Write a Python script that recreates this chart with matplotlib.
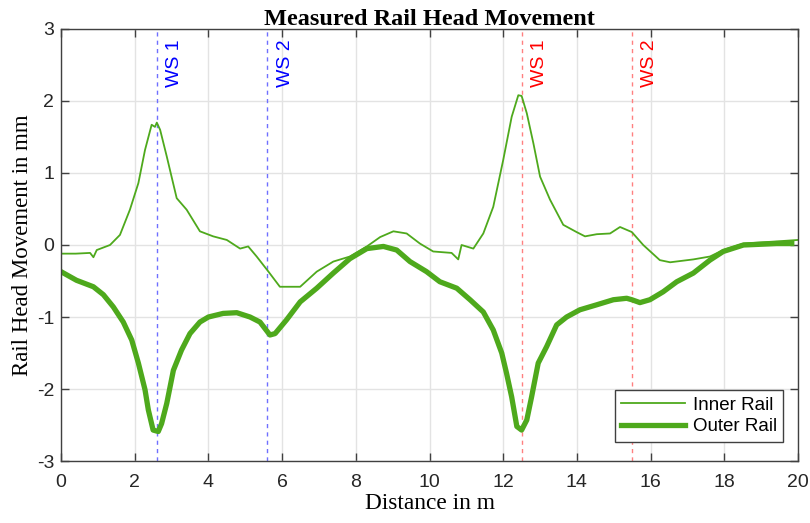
import numpy as np
import matplotlib
matplotlib.use('Agg')
import matplotlib.pyplot as plt

# ---- data ----
inner_x = [0.0, 0.4, 0.79, 0.88, 0.97, 1.33, 1.6, 1.87, 2.1, 2.28, 2.46, 2.55, 2.6, 2.69,
           2.87, 3.0, 3.14, 3.41, 3.77, 4.13, 4.5, 4.86, 5.08, 5.31, 5.63, 5.94, 6.49, 6.94,
           7.39, 7.84, 8.3, 8.66, 9.02, 9.38, 9.74, 10.1, 10.6, 10.78, 10.87, 11.19,
           11.46, 11.73, 12.0, 12.23, 12.41, 12.5, 12.64, 12.82, 13.0, 13.27, 13.63,
           13.99, 14.22, 14.54, 14.9, 15.17, 15.49, 15.8, 16.25, 16.53, 17.16, 17.61,
           17.97, 18.52, 19.42, 20.0]
inner_y = [-0.12, -0.12, -0.11, -0.17, -0.07, 0.0, 0.14, 0.49, 0.86, 1.32, 1.67, 1.64, 1.70, 1.6,
           1.23, 0.95, 0.65, 0.49, 0.19, 0.12, 0.07, -0.05, -0.02, -0.16, -0.37, -0.58, -0.58, -0.37,
           -0.23, -0.16, -0.02, 0.11, 0.19, 0.16, 0.02, -0.09, -0.11, -0.2, 0.0, -0.05,
           0.16, 0.53, 1.18, 1.78, 2.08, 2.07, 1.83, 1.41, 0.95, 0.63, 0.28,
           0.18, 0.12, 0.15, 0.16, 0.25, 0.18, 0.0, -0.21, -0.24, -0.2, -0.16,
           -0.07, 0.02, 0.05, 0.07]

outer_x = [0.0, 0.42, 0.88, 1.15, 1.42, 1.69, 1.92, 2.1, 2.28, 2.37, 2.5, 2.64, 2.73, 2.87,
           3.05, 3.27, 3.5, 3.77, 4.0, 4.4, 4.77, 5.13, 5.4, 5.67, 5.81, 6.12, 6.49, 6.94,
           7.39, 7.84, 8.3, 8.75, 9.11, 9.47, 9.92, 10.28, 10.74, 11.1, 11.46, 11.73,
           11.96, 12.09, 12.23, 12.37, 12.5, 12.64, 12.77, 12.95, 13.18, 13.45, 13.72,
           14.08, 14.54, 14.99, 15.35, 15.49, 15.71, 15.98, 16.34, 16.71, 17.16, 17.61,
           17.97, 18.52, 19.42, 19.83]
outer_y = [-0.37, -0.49, -0.58, -0.69, -0.86, -1.07, -1.32, -1.64, -2.01, -2.29, -2.57, -2.59, -2.48, -2.2,
           -1.74, -1.46, -1.23, -1.07, -1.0, -0.95, -0.94, -1.0, -1.07, -1.25, -1.23, -1.04, -0.79, -0.6,
           -0.39, -0.19, -0.05, -0.02, -0.07, -0.23, -0.37, -0.51, -0.6, -0.76, -0.93, -1.18,
           -1.5, -1.78, -2.11, -2.52, -2.57, -2.43, -2.11, -1.64, -1.41, -1.11, -1.0,
           -0.9, -0.83, -0.76, -0.74, -0.76, -0.8, -0.76, -0.65, -0.51, -0.39, -0.21,
           -0.09, 0.0, 0.02, 0.02]

ws_x = [2.6, 5.6, 12.5, 15.5]
ws_labels = ['WS 1', 'WS 2', 'WS 1', 'WS 2']
ws_colors = ['blue', 'blue', 'red', 'red']

x_ticks = [0, 2, 4, 6, 8, 10, 12, 14, 16, 18, 20]
y_ticks = [-3, -2, -1, 0, 1, 2, 3]

#...!...!..................
green = '#4ea91c'
ax_col = '#404040'
serif = 'Liberation Serif'
sans = 'Liberation Sans'

plt.rcParams['font.family'] = sans
plt.rcParams['axes.unicode_minus'] = False
fig = plt.figure(figsize=(8.10, 5.23), dpi=100, facecolor='white')
ax = fig.add_axes([0.0753, 0.1185, 0.9099, 0.8261])

ax.plot(inner_x, inner_y, color=green, lw=1.3, label='Inner Rail')
ax.plot(outer_x, outer_y, color=green, lw=3.8, solid_joinstyle='round', label='Outer Rail')

line_cols = {'blue': '#7070ff', 'red': '#ff8080'}
for xv, lab, c in zip(ws_x, ws_labels, ws_colors):
    ax.axvline(xv, color=line_cols[c], ls=(0, (3, 3)), lw=1.0, zorder=1)
    ax.text(xv + 0.48, 2.85, lab, rotation=90, va='top', ha='center',
            color=c, fontsize=14, family=sans)

ax.set_xlim(0, 20)
ax.set_ylim(-3, 3)
ax.set_xticks(x_ticks)
ax.set_yticks(y_ticks)
ax.grid(True, color='#e3e3e3', lw=1.0)
ax.set_axisbelow(True)
for sp in ax.spines.values():
    sp.set_color(ax_col)
    sp.set_linewidth(1.0)
ax.tick_params(direction='in', length=6, width=1.0, color=ax_col,
               top=True, right=True, labelsize=14, labelcolor='#262626')
ax.tick_params(axis='x', pad=9)
ax.tick_params(axis='y', pad=5)

ax.set_title('Measured Rail Head Movement', family=serif, fontweight='bold',
             fontsize=17.5, pad=3)
ax.set_xlabel('Distance in m', family=serif, fontsize=16.8, labelpad=2)
ax.set_ylabel('Rail Head Movement in mm', family=serif, fontsize=16.5, labelpad=3)

leg = ax.legend(loc='lower right', bbox_to_anchor=(0.98, 0.044), borderaxespad=0,
                fontsize=13.5, handlelength=3.4, fancybox=False, framealpha=1,
                edgecolor=ax_col, borderpad=0.35, labelspacing=0.25, handletextpad=0.4)
leg.get_frame().set_linewidth(1.0)

fig.savefig('out.png', dpi=100, facecolor='white')
